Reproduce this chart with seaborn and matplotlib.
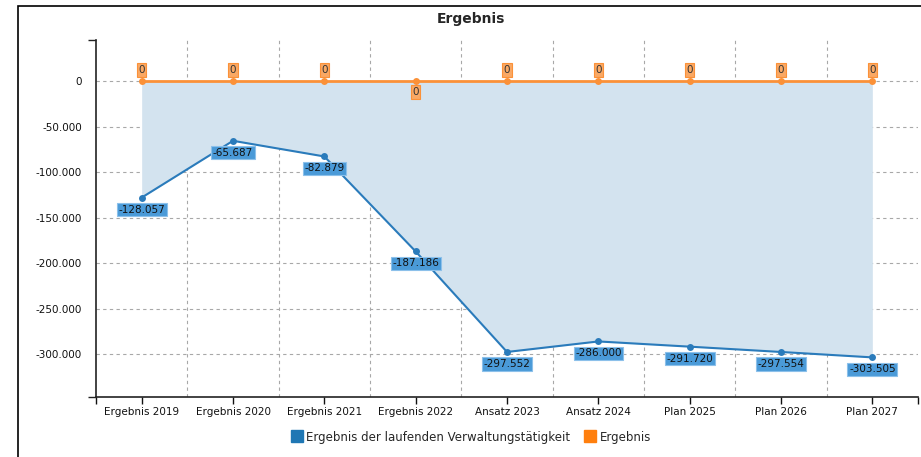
import pandas as pd
import seaborn as sns
import matplotlib.pyplot as plt
from matplotlib.patches import Rectangle
from matplotlib.lines import Line2D
from matplotlib.ticker import FuncFormatter, FixedLocator

categories = ["Ergebnis 2019", "Ergebnis 2020", "Ergebnis 2021", "Ergebnis 2022", "Ansatz 2023",
              "Ansatz 2024", "Plan 2025", "Plan 2026", "Plan 2027"]
verwaltung = [-128057, -65687, -82879, -187186, -297552, -286000, -291720, -297554, -303505]
ergebnis = [0, 0, 0, 0, 0, 0, 0, 0, 0]
yticks = [0, -50000, -100000, -150000, -200000, -250000, -300000]

blue = "#2a7bbb"
orange = "#fb9138"

df = pd.DataFrame({"x": range(len(categories)), "cat": categories,
                   "verwaltung": verwaltung, "ergebnis": ergebnis})

sns.set_style("white")
plt.rcParams['font.family'] = ['DejaVu Sans']

fig = plt.figure(figsize=(9.21, 4.57), dpi=100)
ax = fig.add_axes([96 / 921, 1 - 397 / 457, (918 - 96) / 921, (397 - 40) / 457])

# outer frame (left + top edge visible in screenshot)
fig.patches.append(Rectangle((18 / 921, -0.1), 1.2, 1 - 6 / 457 + 0.1, transform=fig.transFigure,
                             fill=False, edgecolor="black", linewidth=1.2))

# filled area between the two series
ax.fill_between(df["x"], df["verwaltung"], df["ergebnis"], color="#d3e3ef", linewidth=0, zorder=1)

sns.lineplot(data=df, x="x", y="verwaltung", color=blue, marker="o", markersize=5,
             markeredgewidth=0, linewidth=1.5, ax=ax, zorder=3)
sns.lineplot(data=df, x="x", y="ergebnis", color=orange, marker="o", markersize=5,
             markeredgewidth=0, linewidth=2, ax=ax, zorder=4)

def de_fmt(v, pos=None):
    return f"{int(v):,}".replace(",", ".")

for i, v in enumerate(verwaltung):
    ax.annotate(de_fmt(v), (i, v), xytext=(0, -12), textcoords="offset pixels",
                ha="center", va="center", fontsize=7.5, color="#111111", zorder=6,
                bbox=dict(boxstyle="square,pad=0.15", facecolor="#4a9ad8", edgecolor="#8cc0ea", linewidth=0.8))

for i, v in enumerate(ergebnis):
    off = 11 if i != 3 else -11
    ax.annotate(de_fmt(v), (i, v), xytext=(0, off), textcoords="offset pixels",
                ha="center", va="center", fontsize=7.5, color="#333333", zorder=6,
                bbox=dict(boxstyle="square,pad=0.15", facecolor="#f9a864", edgecolor=orange, linewidth=0.8))

ax.set_xlim(-0.5, len(categories) - 0.5)
ax.set_ylim(-347000, 45000)

ax.set_yticks(yticks)
ax.yaxis.set_major_formatter(FuncFormatter(de_fmt))
ax.yaxis.set_minor_locator(FixedLocator([45000, -347000]))
ax.set_xticks(list(range(len(categories))) + [-0.5, len(categories) - 0.5])
ax.set_xticklabels(categories + ["", ""])
ax.tick_params(axis="both", labelsize=7.5, colors="#111111", length=5, width=1, direction="out")
ax.tick_params(axis="x", bottom=True, pad=2)
ax.tick_params(axis="y", length=0, pad=10)
ax.tick_params(axis="y", which="minor", left=True, length=6, width=1, color="#222222")

# grid: horizontal at ticks, vertical between categories
for t in yticks:
    ax.axhline(t, color="#a8a8a8", linestyle=(0, (3, 3)), linewidth=0.8, zorder=0.5)
for b in range(len(categories) - 1):
    ax.axvline(b + 0.5, color="#a8a8a8", linestyle=(0, (3, 3)), linewidth=0.8, zorder=0.5)

for s in ["top", "right"]:
    ax.spines[s].set_visible(False)
for s in ["left", "bottom"]:
    ax.spines[s].set_color("#222222")
    ax.spines[s].set_linewidth(1.2)

ax.set_xlabel("")
ax.set_ylabel("")
fig.text(471 / 921, 1 - 19 / 457, "Ergebnis", ha="center", va="center", fontsize=10, fontweight="bold")

handles = [Line2D([], [], marker="s", linestyle="", color="#1f77b4", markersize=8),
           Line2D([], [], marker="s", linestyle="", color="#ff7f0e", markersize=8)]
fig.legend(handles, ["Ergebnis der laufenden Verwaltungstätigkeit", "Ergebnis"],
           loc="center", bbox_to_anchor=(471 / 921, 1 - 437 / 457), ncol=2, frameon=False,
           fontsize=8.5, handletextpad=0.3, columnspacing=1.2, handlelength=1)

fig.savefig("out.png", dpi=100)
